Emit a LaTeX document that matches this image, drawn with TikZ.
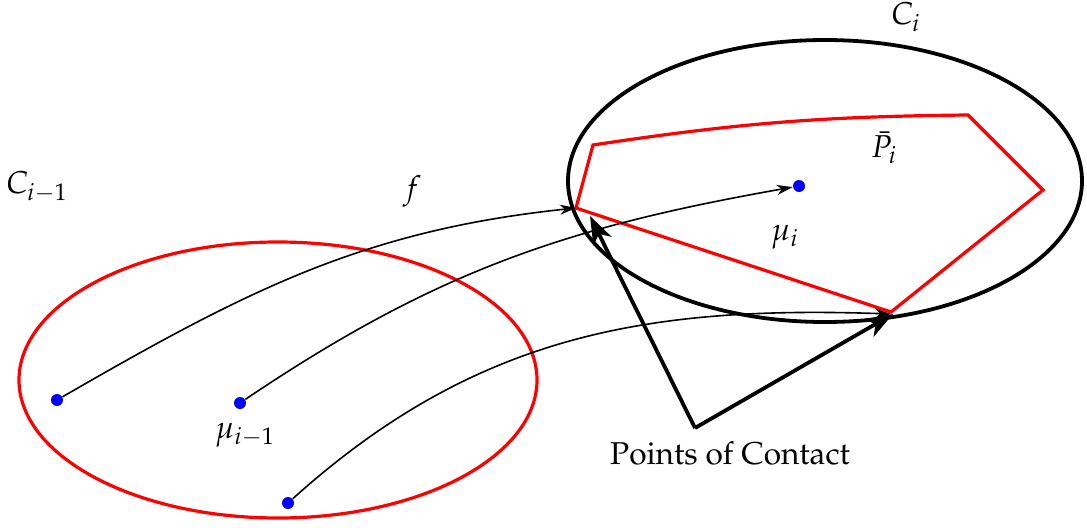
\documentclass[tikz,border=0pt]{standalone}
\usepackage[T1]{fontenc}
\usepackage{mathpazo}
\usetikzlibrary{arrows.meta}
\begin{document}
\begin{tikzpicture}[x=0.5pt,y=0.5pt,
  dot/.style={circle,fill=blue,inner sep=0pt,minimum size=6pt},
  lbl/.style={inner sep=0pt,font=\fontsize{15.8}{19}\selectfont},
  thinarrow/.style={line width=0.8pt,-{Stealth[length=8pt,width=5pt,inset=2.5pt]}},
  thickarrow/.style={line width=1.9pt,-{Stealth[length=14pt,width=10pt,inset=4pt]}}]
\useasboundingbox (0,0) rectangle (1087,527);
% ellipses
\draw[red,line width=1.6pt] (278,147) ellipse [x radius=259, y radius=138];
\draw[black,line width=1.9pt] (825,346) ellipse [x radius=257, y radius=141];
% polygon
\coordinate (p1) at (593,382);
\coordinate (p2) at (968,412);
\coordinate (p3) at (1043,337);
\coordinate (p4) at (891,215);
\coordinate (p5) at (576,319);
\draw[red,line width=1.6pt,line join=miter] (p1) to[bend left=4] (p2) -- (p3) -- (p4) -- (p5) -- cycle;
% dots
\node[dot] (d1) at (57,127) {};
\node[dot] (d2) at (240,124) {};
\node[dot] (d3) at (288,24) {};
\node[dot] (d4) at (799,341) {};
\coordinate (e3) at (891,213);
% curves
\draw[thinarrow] (d1) to[out=30,in=186] (p5);
\draw[thinarrow] (d2) to[out=34,in=190] (d4);
\draw[thinarrow] (d3) to[out=42,in=178] (e3);
% thick arrows
\coordinate (c0) at (695,99);
\coordinate (c1) at (590,311);
\coordinate (c2) at (893,213);
\draw[thickarrow,line join=miter] (c0) -- (c1);
\draw[thickarrow] (c0) -- (c2);
% labels
\node[lbl] (lc1) at (37,340) {$C_{i-1}$};
\node[lbl] (lf) at (412,336) {$f$};
\node[lbl] (lm1) at (245,92) {$\mu_{i-1}$};
\node[lbl] (lm) at (785,290) {$\mu_i$};
\node[lbl] (lc) at (906,510) {$C_i$};
\node[lbl] (lp) at (884,379) {$\bar{P}_i$};
\node[lbl] (lpc) at (730,74) {Points of Contact};
\end{tikzpicture}
\end{document}
